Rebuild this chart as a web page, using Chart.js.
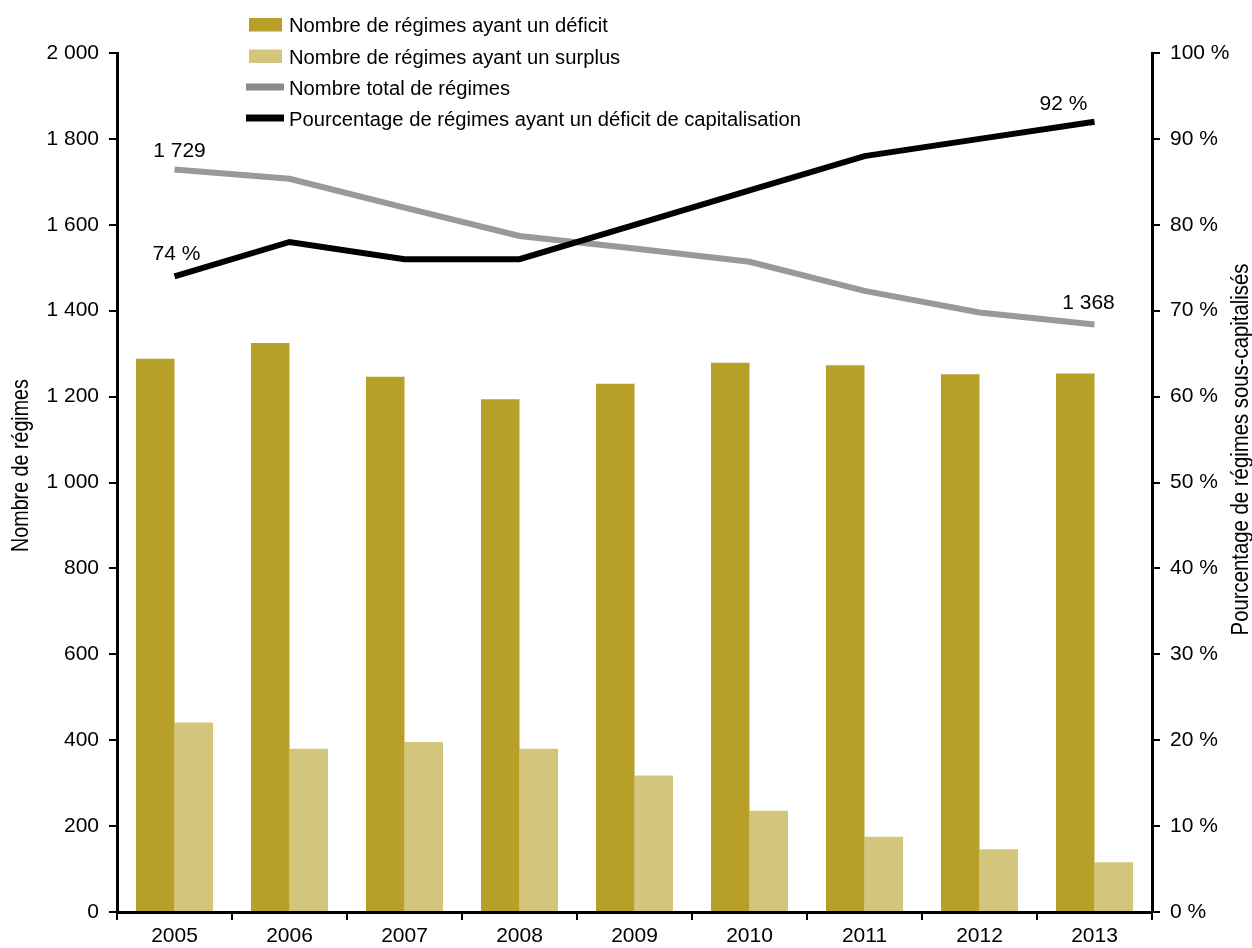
<!DOCTYPE html>
<html lang="fr">
<head>
<meta charset="utf-8">
<title>Régimes ayant un déficit de capitalisation</title>
<script src="https://cdn.jsdelivr.net/npm/chart.js@4.4.1/dist/chart.umd.min.js"></script>
<style>
  html, body { margin: 0; padding: 0; background: #fff; }
  #wrap { width: 1252px; height: 948px; }
</style>
</head>
<body>
<div id="wrap"><canvas id="chart" width="1252" height="948"></canvas></div>
<script>
// données
const annees = ['2005', '2006', '2007', '2008', '2009', '2010', '2011', '2012', '2013'];
const deficit = [1288, 1325, 1246, 1194, 1230, 1279, 1273, 1252, 1254];
const surplus = [441, 380, 396, 380, 318, 236, 175, 146, 116];
const total = [1729, 1707, 1640, 1574, 1545, 1514, 1446, 1396, 1368];
const pourcentage = [74, 78, 76, 76, 80, 84, 88, 90, 92];

const ticksNombre = [0, 200, 400, 600, 800, 1000, 1200, 1400, 1600, 1800, 2000];
const etiquettesNombre = ['0', '200', '400', '600', '800', '1 000', '1 200', '1 400', '1 600', '1 800', '2 000'];
const ticksPct = [0, 10, 20, 30, 40, 50, 60, 70, 80, 90, 100];
const etiquettesPct = ['0 %', '10 %', '20 %', '30 %', '40 %', '50 %', '60 %', '70 %', '80 %', '90 %', '100 %'];

const titreGauche = 'Nombre de régimes';
const titreDroite = 'Pourcentage de régimes sous-capitalisés';

const FONT = '"Liberation Sans", Arial, sans-serif';
const ETROIT = 0.82; // pas de police étroite installée : on compresse à l'horizontale
const OR_FONCE = '#b89f28';
const OR_PALE = '#d4c57c';
const GRIS = '#999999';

const fmt = v => v >= 1000 ? Math.floor(v / 1000) + ' ' + String(v % 1000).padStart(3, '0') : String(v);

function texteEtroit(c, txt, x, y, sx) {
  c.save();
  c.translate(x, y);
  c.scale(sx, 1);
  c.fillText(txt, 0, 0);
  c.restore();
}

// légende en liste verticale, en haut
const legendeListe = {
  id: 'legendeListe',
  afterDraw(chart) {
    const c = chart.ctx;
    const rows = [
      { ds: 2, kind: 'box', base: 32 },
      { ds: 3, kind: 'box', base: 63.5 },
      { ds: 1, kind: 'line', base: 95 },
      { ds: 0, kind: 'line', base: 126 }
    ];
    c.save();
    c.font = '20px ' + FONT;
    c.textBaseline = 'alphabetic';
    c.textAlign = 'left';
    rows.forEach(r => {
      const d = chart.data.datasets[r.ds];
      if (r.kind === 'box') {
        c.fillStyle = d.backgroundColor;
        c.fillRect(249, r.base - 14, 33, 13.5);
      } else {
        c.fillStyle = r.ds === 1 ? '#8a8a8e' : d.borderColor;
        c.fillRect(246, r.base - 11.5, 38, 7);
      }
      c.fillStyle = '#000';
      texteEtroit(c, d.label, 289, r.base, 1.01);
    });
    c.restore();
  }
};

// étiquettes des premières et dernières valeurs
const etiquettes = {
  id: 'etiquettes',
  afterDatasetsDraw(chart) {
    const c = chart.ctx;
    const mTot = chart.getDatasetMeta(1).data;
    const mPct = chart.getDatasetMeta(0).data;
    const n = annees.length - 1;
    const items = [
      { p: mTot[0], t: fmt(total[0]), dx: 5, dy: -12 },
      { p: mTot[n], t: fmt(total[n]), dx: -6, dy: -15 },
      { p: mPct[0], t: pourcentage[0] + ' %', dx: 2, dy: -16 },
      { p: mPct[n], t: pourcentage[n] + ' %', dx: -31, dy: -12 }
    ];
    c.save();
    c.font = '21px ' + FONT;
    c.fillStyle = '#000';
    c.textAlign = 'center';
    c.textBaseline = 'alphabetic';
    items.forEach(it => c.fillText(it.t, it.p.x + it.dx, it.p.y + it.dy));
    c.restore();
  }
};

// titres des axes (celui de droite se lit aussi de bas en haut)
const titresAxes = {
  id: 'titresAxes',
  afterDraw(chart) {
    const c = chart.ctx;
    const a = chart.chartArea;
    const mid = (a.top + a.bottom) / 2;
    [[21, mid - 17, titreGauche, 24], [chart.scales.yPct.right - 11, mid - 33, titreDroite, 24.8]].forEach(([x, y, t, taille]) => {
      c.save();
      c.font = taille + 'px ' + FONT;
      c.fillStyle = '#000';
      c.textAlign = 'center';
      c.textBaseline = 'middle';
      c.translate(x, y);
      c.rotate(-Math.PI / 2);
      texteEtroit(c, t, 0, 0, ETROIT);
      c.restore();
    });
  }
};

const ctx = document.getElementById('chart').getContext('2d');
const axeNoir = { color: '#000', width: 3 };
const grilleTicks = { drawOnChartArea: false, drawTicks: true, tickLength: 8, color: '#000', lineWidth: 2 };

new Chart(ctx, {
  type: 'bar',
  data: {
    labels: annees,
    datasets: [
      {
        type: 'line',
        label: 'Pourcentage de régimes ayant un déficit de capitalisation',
        data: pourcentage,
        yAxisID: 'yPct',
        borderColor: '#000',
        borderWidth: 6,
        pointRadius: 0,
        tension: 0,
        order: 0
      },
      {
        type: 'line',
        label: 'Nombre total de régimes',
        data: total,
        yAxisID: 'yNb',
        borderColor: GRIS,
        borderWidth: 6,
        pointRadius: 0,
        tension: 0,
        order: 1
      },
      {
        label: 'Nombre de régimes ayant un déficit',
        data: deficit,
        yAxisID: 'yNb',
        backgroundColor: OR_FONCE,
        barPercentage: 1,
        categoryPercentage: 0.67,
        order: 2
      },
      {
        label: 'Nombre de régimes ayant un surplus',
        data: surplus,
        yAxisID: 'yNb',
        backgroundColor: OR_PALE,
        barPercentage: 1,
        categoryPercentage: 0.67,
        order: 3
      }
    ]
  },
  options: {
    responsive: false,
    animation: false,
    layout: { padding: { top: 53, left: 0, right: 0, bottom: 0 } },
    plugins: { legend: { display: false }, tooltip: { enabled: false } },
    scales: {
      x: {
        offset: true,
        grid: { ...grilleTicks, offset: true },
        border: axeNoir,
        ticks: { color: '#000', font: { family: FONT, size: 21 }, padding: 4, maxRotation: 0 },
        afterFit: s => { s.height = 36; }
      },
      yNb: {
        position: 'left',
        min: 0,
        max: 2000,
        grid: grilleTicks,
        border: axeNoir,
        afterBuildTicks: s => { s.ticks = ticksNombre.map(v => ({ value: v })); },
        ticks: {
          color: '#000',
          font: { family: FONT, size: 21 },
          padding: 10,
          callback: (v, i) => etiquettesNombre[i]
        },
        afterFit: s => { s.width = 117; }
      },
      yPct: {
        position: 'right',
        min: 0,
        max: 100,
        grid: grilleTicks,
        border: axeNoir,
        afterBuildTicks: s => { s.ticks = ticksPct.map(v => ({ value: v })); },
        ticks: {
          color: '#000',
          font: { family: FONT, size: 21 },
          padding: 10,
          callback: (v, i) => etiquettesPct[i]
        },
        afterFit: s => { s.width = 100; }
      }
    }
  },
  plugins: [legendeListe, etiquettes, titresAxes]
});
</script>
</body>
</html>
